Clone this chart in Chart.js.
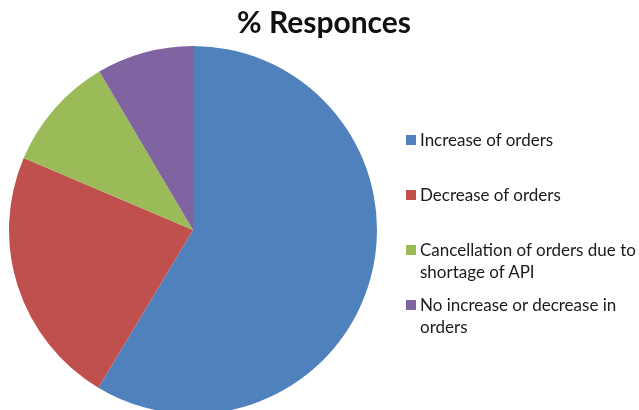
<!DOCTYPE html>
<html>
<head>
<meta charset="utf-8">
<script src="https://cdn.jsdelivr.net/npm/chart.js@4/dist/chart.umd.min.js"></script>
<style>
  html, body { margin: 0; padding: 0; background: #fff; overflow: hidden; }
  #wrap { position: relative; width: 639px; height: 410px; overflow: hidden; }
  #grafica { position: absolute; left: 0; top: 0; }
  #titulo {
    position: absolute; left: 0; top: 3px; width: 648px; text-align: center;
    font-family: Lato, "Open Sans", sans-serif; font-weight: bold; font-size: 30px; color: #111;
  }
  #leyenda {
    position: absolute; left: 406px; top: 0; width: 233px;
    font-family: Lato, "Open Sans", sans-serif; font-size: 17px; color: #1b1b1b; line-height: 22px;
  }
  .item { position: absolute; left: 0; width: 240px; white-space: nowrap; }
  .caja { position: absolute; left: 0; top: 6px; width: 10px; height: 10px; }
  .texto { margin-left: 14px; }
</style>
</head>
<body>
<div id="wrap">
  <canvas id="grafica" width="639" height="414"></canvas>
  <div id="titulo">% Responces</div>
  <div id="leyenda"></div>
</div>
<script>
// Datos del gráfico
var categorias = ['Increase of orders', 'Decrease of orders', 'Cancellation of orders due to shortage of API', 'No increase or decrease in orders'];
var lineasLeyenda = [['Increase of orders'], ['Decrease of orders'], ['Cancellation of orders due to', 'shortage of API'], ['No increase or decrease in', 'orders']];
var porcentajes = [58.6, 22.8, 10.1, 8.5];
var colores = ['#4F81BD', '#C0504D', '#9BBB59', '#8064A2'];

// Posición vertical de cada entrada de la leyenda
var posLeyenda = [129, 184, 239, 294];

var ctx = document.getElementById('grafica').getContext('2d');
var miGrafico = new Chart(ctx, {
    type: 'pie',
    data: {
        labels: categorias,
        datasets: [{
            data: porcentajes,
            backgroundColor: colores,
            borderWidth: 0
        }]
    },
    options: {
        responsive: false,
        animation: false,
        layout: { padding: { left: 9, right: 262, top: 46, bottom: 0 } },
        plugins: {
            legend: { display: false },
            tooltip: { enabled: false }
        }
    }
});

// Leyenda en HTML para poder partir las líneas largas
var leyenda = document.getElementById('leyenda');
for (var i = 0; i < categorias.length; i++) {
    var item = document.createElement('div');
    item.className = 'item';
    item.style.top = posLeyenda[i] + 'px';

    var caja = document.createElement('div');
    caja.className = 'caja';
    caja.style.background = miGrafico.data.datasets[0].backgroundColor[i];
    item.appendChild(caja);

    var texto = document.createElement('div');
    texto.className = 'texto';
    texto.innerHTML = lineasLeyenda[i].join('<br>');
    item.appendChild(texto);

    leyenda.appendChild(item);
}
</script>
</body>
</html>
